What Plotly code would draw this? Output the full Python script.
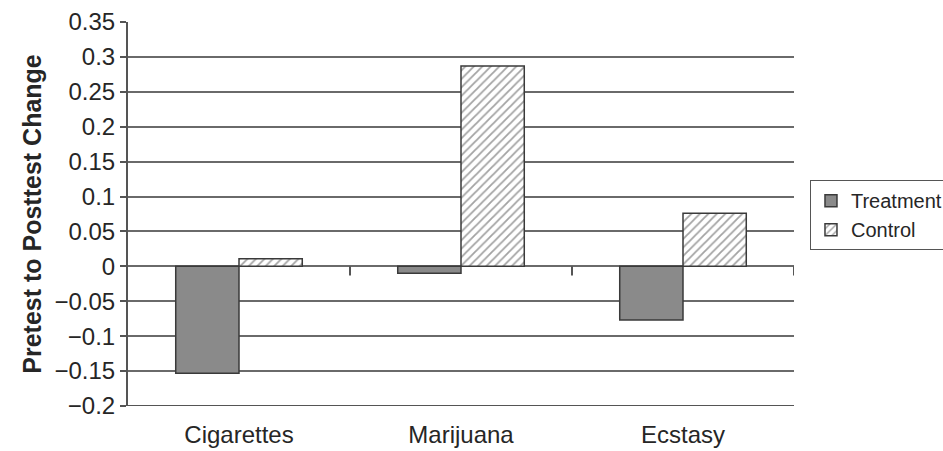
import plotly.graph_objects as go

# Substance-use change scores by group
categories = ["Cigarettes", "Marijuana", "Ecstasy"]
treatment = [-0.153, -0.010, -0.077]
control = [0.011, 0.287, 0.076]

tick_vals = [-0.2, -0.15, -0.1, -0.05, 0, 0.05, 0.1, 0.15, 0.2, 0.25, 0.3, 0.35]
tick_text = ["−0.2", "−0.15", "−0.1", "−0.05", "0", "0.05", "0.1", "0.15",
             "0.2", "0.25", "0.3", "0.35"]
grid_vals = [-0.15, -0.1, -0.05, 0, 0.05, 0.1, 0.15, 0.2, 0.25, 0.3]

FONT = "Liberation Sans, Arial, sans-serif"
OUTLINE = "#3a3a3a"
GRID = "#6a6a6a"
TEXT = "#262626"

fig = go.Figure()
fig.add_trace(go.Bar(
    name="Treatment", x=categories, y=treatment,
    marker=dict(color="#8a8a8a", line=dict(color=OUTLINE, width=1.5)),
))
fig.add_trace(go.Bar(
    name="Control", x=categories, y=control,
    marker=dict(color="white", line=dict(color=OUTLINE, width=1.5),
                pattern=dict(shape="/", fgcolor="#484848", bgcolor="white",
                             size=6, solidity=0.3)),
))

# short tick marks on the zero line between categories
for i in range(len(categories)):
    fig.add_shape(type="line", xref="x", yref="y",
                  x0=i + 0.5, x1=i + 0.5, y0=0, y1=-0.013,
                  line=dict(color="#555555", width=2))

fig.update_layout(
    width=943, height=451,
    margin=dict(l=128, r=149, t=22, b=45, autoexpand=False),
    paper_bgcolor="white", plot_bgcolor="white",
    barmode="group", bargap=0.43, bargroupgap=0,
    font=dict(family=FONT, size=22, color=TEXT),
    showlegend=True,
    legend=dict(x=1.024, y=0.497, xanchor="left", yanchor="middle",
                bordercolor="#555555", borderwidth=1,
                font=dict(size=20, family=FONT, color=TEXT),
                tracegroupgap=0, itemwidth=30),
    xaxis=dict(range=[-0.5, 2.5], showgrid=False, showline=False,
               ticks="", tickfont=dict(size=24), ticklabelstandoff=12,
               anchor="y", automargin=False),
    yaxis=dict(range=[-0.2, 0.35], tickvals=tick_vals, ticktext=tick_text,
               showgrid=False, zeroline=False, automargin=False,
               showline=True, linecolor="#555555", linewidth=2,
               ticks="outside", ticklen=6, tickwidth=2, tickcolor="#555555",
               tickfont=dict(size=24),
               title=dict(text="<b>Pretest to Posttest Change</b>",
                          font=dict(size=25), standoff=6)),
    yaxis2=dict(range=[-0.2, 0.35], overlaying="y", tickvals=grid_vals,
                showgrid=True, gridcolor=GRID, gridwidth=2,
                showticklabels=False, ticks="", zeroline=False,
                showline=False, automargin=False),
)

# bottom axis line at -0.2
fig.add_shape(type="line", xref="paper", yref="y", x0=0, x1=1,
              y0=-0.2, y1=-0.2, line=dict(color="#555555", width=2))

# invisible trace to activate the grid axis
fig.add_trace(go.Scatter(x=[categories[0]], y=[0], yaxis="y2",
                         mode="markers", marker=dict(opacity=0),
                         showlegend=False, hoverinfo="skip"))

fig.write_html("out.html")
